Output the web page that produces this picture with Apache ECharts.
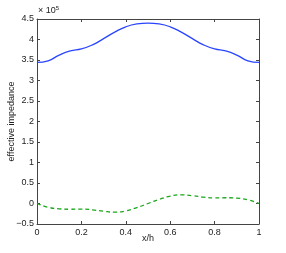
<!DOCTYPE html>
<html><head><meta charset="utf-8">
<script src="https://cdn.jsdelivr.net/npm/echarts@6/dist/echarts.min.js"></script>
<style>html,body{margin:0;padding:0;background:#fff}#c{width:286px;height:253px}</style>
</head><body><div id="c"></div>
<script>
const xValues = [0,0.05,0.1,0.15,0.2,0.25,0.3,0.35,0.4,0.45,0.5,0.55,0.6,0.65,0.7,0.75,0.8,0.85,0.9,0.95,1];
const blueValues = [344000,348000,362000,372000,377000,387000,402000,418000,431000,438000,440000,438000,431000,418000,402000,387000,377000,372000,362000,348000,344000];
const greenValues = [0,-9000,-13000,-14000,-13500,-15500,-19000,-21000,-18000,-10000,0,10000,18000,21000,19000,15500,13500,14000,13000,9000,0];
const xTicks = [0,0.2,0.4,0.6,0.8,1];
const yTicks = [-0.5,0,0.5,1,1.5,2,2.5,3,3.5,4,4.5];
const xLabel = 'x/h';
const yLabel = 'effective impedance';

const chart = echarts.init(document.getElementById('c'), null, {renderer:'canvas'});
const axisCol = '#444';
const font = "'Liberation Sans', Arial, sans-serif";
const fmtY = v => { const n = Math.round(v/1e4)/10; return n < 0 ? '\u2212' + Math.abs(n) : String(n); };
const base = () => ({
  axisLine:{show:true,onZero:false,lineStyle:{color:axisCol,width:1}},
  axisTick:{show:true,inside:true,length:3,lineStyle:{color:axisCol}},
  splitLine:{show:false}
});
chart.setOption({
  animation:false,
  grid:{left:37,right:27,top:19,bottom:29,containLabel:false,outerBoundsMode:'none'},
  xAxis:[
    Object.assign({type:'value',min:0,max:1,interval:0.2,position:'bottom',
      axisLabel:{fontSize:9,color:'#222',fontFamily:font,margin:4,formatter:v=>String(Math.round(v*10)/10)},
      name:xLabel,nameLocation:'middle',nameGap:10,nameMoveOverlap:false,nameTextStyle:{fontSize:9,color:'#222',fontFamily:font,verticalAlign:'top'}},base()),
    Object.assign({type:'value',min:0,max:1,interval:0.2,position:'top',axisLabel:{show:false}},base())
  ],
  yAxis:[
    Object.assign({type:'value',min:-50000,max:450000,interval:50000,position:'left',
      axisLabel:{fontSize:9,color:'#222',fontFamily:font,margin:3,formatter:fmtY},
      name:yLabel,nameLocation:'middle',nameGap:21,nameRotate:90,nameMoveOverlap:false,nameTextStyle:{fontSize:9,color:'#222',fontFamily:font}},base()),
    Object.assign({type:'value',min:-50000,max:450000,interval:50000,position:'right',axisLabel:{show:false}},base())
  ],
  graphic:[{type:'text',left:38,top:5,style:{rich:{a:{fontSize:9,fill:'#222',fontFamily:font},s:{fontSize:6,fill:'#222',fontFamily:font,verticalAlign:'top',padding:[0,0,5,0]}},text:'{a|\u00d7 10}{s|5}'}}],
  series:[
    {type:'line',data:xValues.map((x,i)=>[x,blueValues[i]]),smooth:0.5,showSymbol:false,
     lineStyle:{color:'#2a45ff',width:1.3}},
    {type:'line',data:xValues.map((x,i)=>[x,greenValues[i]]),smooth:0.5,showSymbol:false,
     lineStyle:{color:'#1aa61a',width:1.3,type:[4,3]}}
  ]
});
</script></body></html>
